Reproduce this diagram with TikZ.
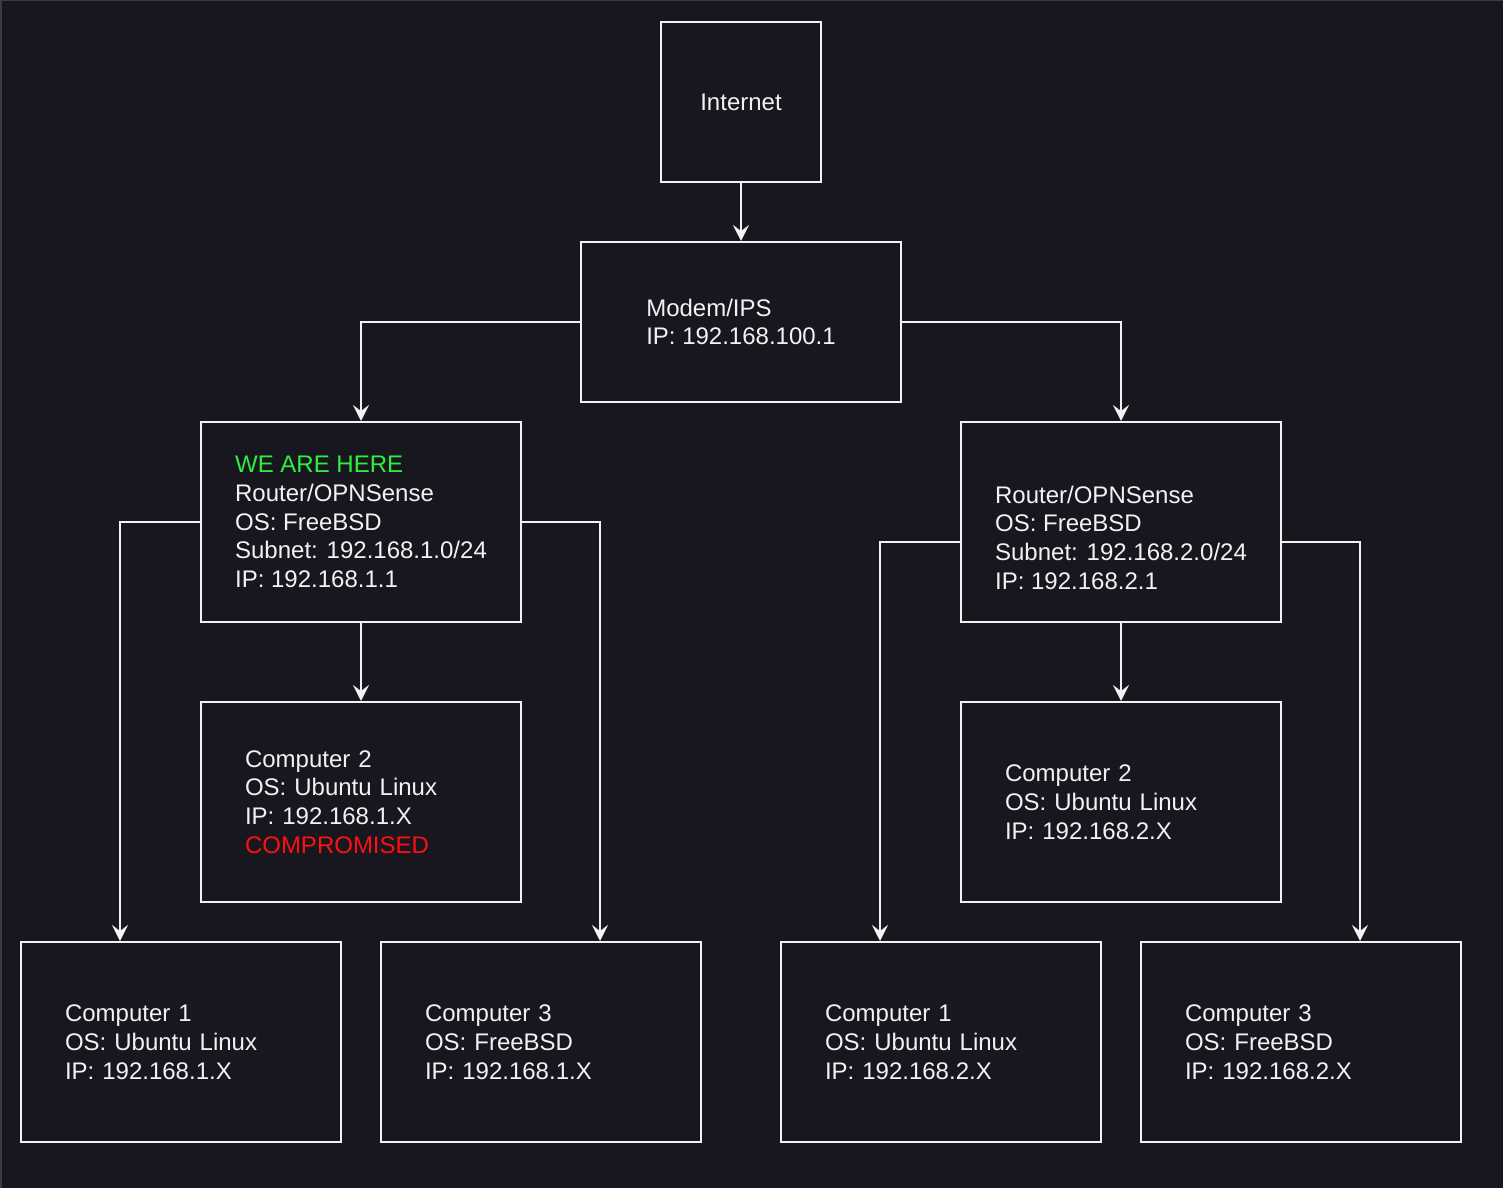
\documentclass[tikz,border=0pt]{standalone}
\usepackage{fontspec}
\setmainfont{Liberation Sans}
\usepackage{tikz}
\usetikzlibrary{arrows.meta,calc,positioning}

\definecolor{bgdark}{HTML}{18161F}
\definecolor{rim}{HTML}{3C3C40}
\definecolor{fgwhite}{HTML}{F2F2F2}
\definecolor{heregreen}{HTML}{2DF03C}
\definecolor{badred}{HTML}{FF1010}

\tikzset{
  netbox/.style={draw=fgwhite,line width=2pt,text=fgwhite,align=left,
    minimum width=320pt,minimum height=200pt,inner sep=0pt,
    font=\fontsize{24}{28.8}\selectfont},
  pcbox/.style={netbox,text width=232pt},
  link/.style={draw=fgwhite,line width=2pt,
    -{Stealth[length=16pt,width=16pt,inset=6pt]}}
}

\begin{document}
\begin{tikzpicture}[x=1pt,y=-1pt]
            % Hintergrund
            \useasboundingbox (0,0) rectangle (1503,1188);
            \fill[bgdark] (0,0) rectangle (1503,1188);
            \draw[rim,line width=2pt] (1,1188) -- (1,0.5) -- (1503,0.5);

            % Boxen zeichnen
            \node[netbox,minimum width=160pt,minimum height=160pt] (inet) at (741,102) {Internet};
            \node[netbox,minimum height=160pt] (modem) at (741,322) {Modem/IPS\\IP: 192.168.100.1};

            \node[netbox] (rleft) at (361,522) {\textcolor{heregreen}{WE ARE HERE}\\Router/OPNSense\\OS: FreeBSD\\Subnet: 192.168.1.0/24\\IP: 192.168.1.1};
            \node[netbox] (rright) at (1121,522) {\strut\\Router/OPNSense\\OS: FreeBSD\\Subnet: 192.168.2.0/24\\IP: 192.168.2.1};

            \node[pcbox] (pc2left) at (361,802) {Computer 2\\OS: Ubuntu Linux\\IP: 192.168.1.X\\\textcolor{badred}{COMPROMISED}};
            \node[pcbox] (pc2right) at (1121,802) {Computer 2\\OS: Ubuntu Linux\\IP: 192.168.2.X};

            \node[pcbox] (pc1left) at (181,1042) {Computer 1\\OS: Ubuntu Linux\\IP: 192.168.1.X};
            \node[pcbox] (pc3left) at (541,1042) {Computer 3\\OS: FreeBSD\\IP: 192.168.1.X};
            \node[pcbox] (pc1right) at (941,1042) {Computer 1\\OS: Ubuntu Linux\\IP: 192.168.2.X};
            \node[pcbox] (pc3right) at (1301,1042) {Computer 3\\OS: FreeBSD\\IP: 192.168.2.X};

            % Anschlusspunkte
            \coordinate (in1left) at ($(pc1left.north west)+(100,0)$);
            \coordinate (in3left) at ($(pc1left.north west)+(580,0)$);
            \coordinate (in1right) at ($(pc1right.north west)+(100,0)$);
            \coordinate (in3right) at ($(pc3right.north west)+(220,0)$);
            \coordinate (outwright) at ($(rright.west)+(0,20)$);
            \coordinate (outeright) at ($(rright.east)+(0,20)$);

            % Verbindungen
            \draw[link] (inet) -- (modem);
            \draw[link] (modem.west) -| (rleft.north);
            \draw[link] (modem.east) -| (rright.north);
            \draw[link] (rleft) -- (pc2left);
            \draw[link] (rright) -- (pc2right);
            \draw[link] (rleft.west) -| (in1left);
            \draw[link] (rleft.east) -| (in3left);
            \draw[link] (outwright) -| (in1right);
            \draw[link] (outeright) -| (in3right);

        \end{tikzpicture}
\end{document}
